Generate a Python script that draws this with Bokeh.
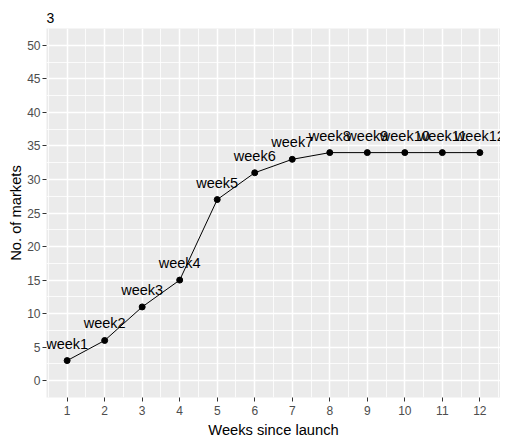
from bokeh.plotting import figure
from bokeh.models import Range1d, FixedTicker, ColumnDataSource, Grid
from bokeh.embed import file_html
from bokeh.resources import INLINE

weeks = [1, 2, 3, 4, 5, 6, 7, 8, 9, 10, 11, 12]
markets = [3, 6, 11, 15, 27, 31, 33, 34, 34, 34, 34, 34]
labels = ["week1", "week2", "week3", "week4", "week5", "week6",
          "week7", "week8", "week9", "week10", "week11", "week12"]
y_ticks = [0, 5, 10, 15, 20, 25, 30, 35, 40, 45, 50]
x_ticks = weeks

src = ColumnDataSource(dict(x=weeks, y=markets, lab=labels))

p = figure(frame_width=454, frame_height=369, output_backend="svg", toolbar_location=None,
           x_range=Range1d(0.45, 12.55), y_range=Range1d(-2.5, 52.5),
           title="3", min_border_left=46, min_border_right=0,
           min_border_top=28, min_border_bottom=36)

p.background_fill_color = "#EBEBEB"
p.border_fill_color = "white"
p.outline_line_color = None

p.title.text_font = "Liberation Sans"
p.title.text_font_size = "14px"
p.title.text_font_style = "normal"
p.title.text_color = "black"
p.title.vertical_align = "top"
p.title.offset = 0
p.title.standoff = 8

for ax, ticks in ((p.xaxis, x_ticks), (p.yaxis, y_ticks)):
    ax.ticker = FixedTicker(ticks=ticks)
    ax.axis_line_color = None
    ax.major_tick_in = 0
    ax.major_tick_out = 4
    ax.major_tick_line_color = "#333333"
    ax.minor_tick_line_color = None
    ax.major_label_text_font = "Liberation Sans"
    ax.major_label_text_font_size = "12px"
    ax.major_label_text_color = "#4D4D4D"
    ax.major_label_standoff = 2
    ax.axis_label_text_font = "Liberation Sans"
    ax.axis_label_text_font_size = "14.7px"
    ax.axis_label_text_font_style = "normal"
    ax.axis_label_text_color = "black"

p.xaxis.major_label_standoff = 4
p.xaxis.axis_label_standoff = 4
p.yaxis.axis_label_standoff = 0
p.xaxis.axis_label = "Weeks since launch"
p.yaxis.axis_label = "No. of markets"

p.xgrid.ticker = FixedTicker(ticks=x_ticks)
p.ygrid.ticker = FixedTicker(ticks=y_ticks)
p.xgrid.minor_grid_line_color = None
p.ygrid.minor_grid_line_color = None
p.xgrid.grid_line_color = "white"
p.ygrid.grid_line_color = "white"
p.xgrid.grid_line_width = 1.5
p.ygrid.grid_line_width = 1.5

minor_x = [w + 0.5 for w in [0] + weeks]
minor_y = [t + 2.5 for t in [-5] + y_ticks]
p.add_layout(Grid(dimension=0, ticker=FixedTicker(ticks=minor_x), grid_line_color="white", grid_line_width=0.8))
p.add_layout(Grid(dimension=1, ticker=FixedTicker(ticks=minor_y), grid_line_color="white", grid_line_width=0.8))

p.line("x", "y", source=src, line_color="black", line_width=1)
p.scatter("x", "y", source=src, size=6, fill_color="black", line_color="black")
p.text("x", "y", text="lab", source=src, text_align="center", text_baseline="alphabetic",
       y_offset=-17, text_font_size="14.5px", text_color="black",
       text_font={"value": "Liberation Sans"})

open("out.html", "w").write(file_html(p, INLINE))
